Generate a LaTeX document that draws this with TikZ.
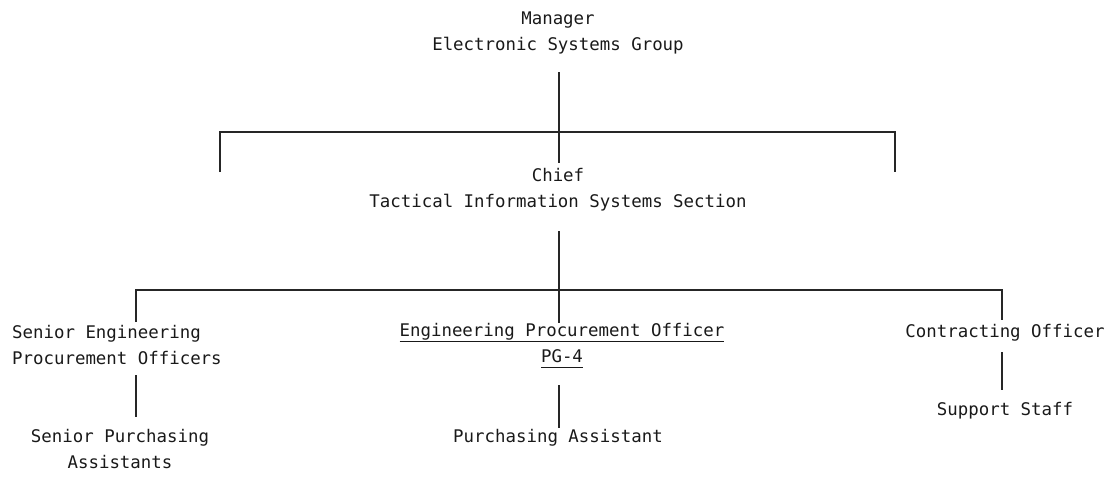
\documentclass[tikz,border=0pt]{standalone}
\usepackage{fontspec}
\setmonofont{DejaVu Sans Mono}
\newcommand\myul[1]{\leavevmode\vtop{\hbox{#1\vrule width 0pt depth 4.2pt}\kern0.6pt\hrule height 1.6pt}}
\begin{document}
\begin{tikzpicture}[x=1pt,y=-1pt,
  lbl/.style={inner sep=0pt, font=\ttfamily\fontsize{17.4}{26}\selectfont, text=black!90},
  ln/.style={line width=1.6pt, black!85}]
\useasboundingbox (0,0) rectangle (1114,479);
% nodes (multi-line nodes: base anchor = baseline of last line)
\node[lbl, align=center, anchor=base] (mgr) at (558,50) {Manager\\Electronic Systems Group};
\node[lbl, align=center, anchor=base] (chief) at (558,207) {Chief\\Tactical Information Systems Section};
\node[lbl, align=left, anchor=base west] (sepo) at (12,364) {Senior Engineering\\Procurement Officers};
\node[lbl, align=center, anchor=base] (spa) at (120,468) {Senior Purchasing\\Assistants};
\node[lbl, align=center, anchor=base] (epo) at (562,362) {\myul{Engineering Procurement Officer}\\\myul{PG-4}};
\node[lbl, anchor=base] (pa) at (558,442) {Purchasing Assistant};
\node[lbl, anchor=base] (co) at (1005,337) {Contracting Officer};
\node[lbl, anchor=base] (ss) at (1005,415) {Support Staff};
% connector coordinates
\coordinate (m1) at (559,72);
\coordinate (m2) at (559,163);
\coordinate (b1l) at (220,172);
\coordinate (b1r) at (895,172);
\coordinate (c1) at (559,231);
\coordinate (c2) at (559,290);
\coordinate (b2l) at (136,322);
\coordinate (b2m) at (559,323);
\coordinate (b2r) at (1002,320);
\coordinate (s1) at (136,375);
\coordinate (s2) at (136,417);
\coordinate (p1) at (559,385);
\coordinate (p2) at (559,428);
\coordinate (r1) at (1002,352);
\coordinate (r2) at (1002,390);
% connectors
\draw[ln] (m1) -- (m2);
\draw[ln] (b1l) -- (b1l |- 0,132) -- (b1r |- 0,132) -- (b1r);
\draw[ln] (c1) -- (c2);
\draw[ln] (b2l) -- (b2l |- c2) -- (b2r |- c2) -- (b2r);
\draw[ln] (c2) -- (b2m);
\draw[ln] (s1) -- (s2);
\draw[ln] (p1) -- (p2);
\draw[ln] (r1) -- (r2);
\end{tikzpicture}
\end{document}
